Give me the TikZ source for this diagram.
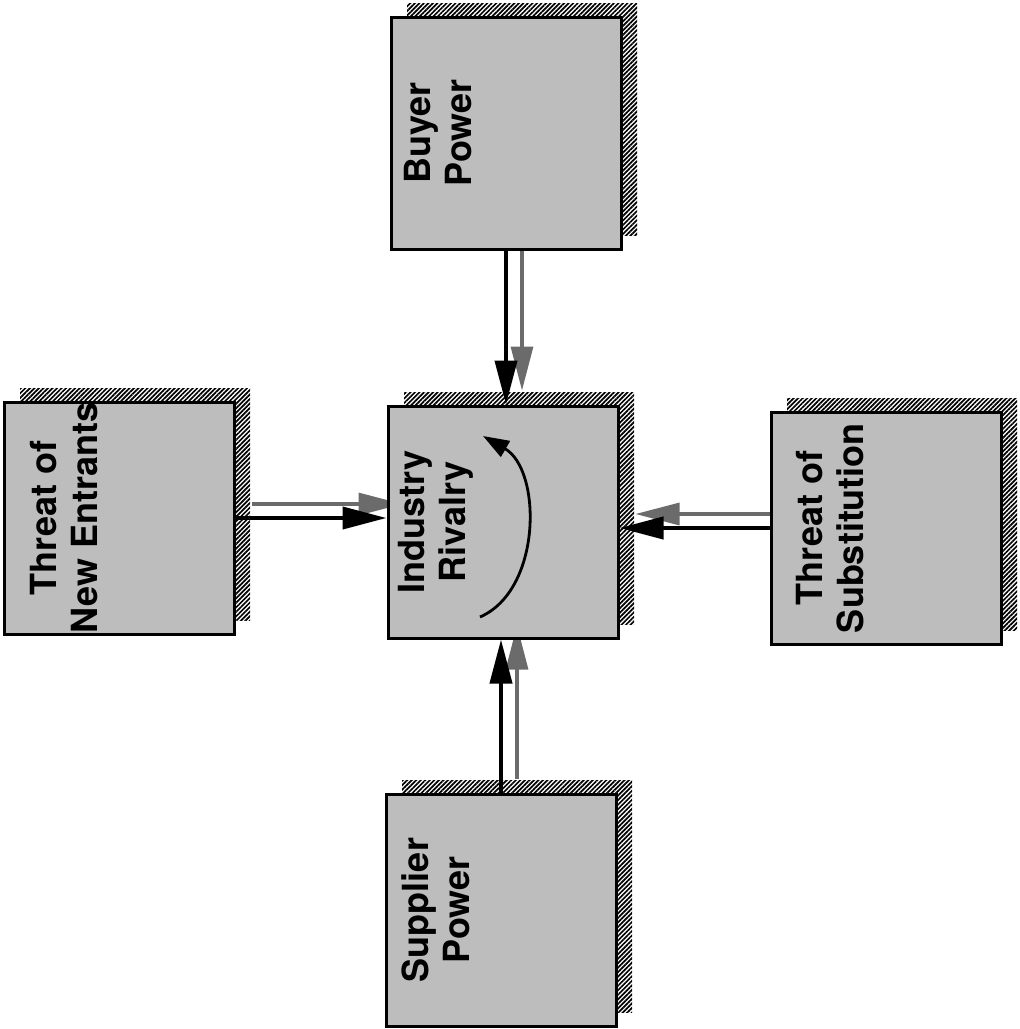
\documentclass[tikz,border=0pt]{standalone}
\usepackage{fontspec}
\setsansfont{TeX Gyre Heros}
\usepackage{tikz}
\usetikzlibrary{arrows.meta,positioning,shadows,patterns.meta,backgrounds}
\definecolor{stip}{gray}{0.74}
\definecolor{shade}{gray}{0.42}
\tikzset{
  >={Triangle[length=22pt,width=11pt]},
  forcebox/.style={draw=black,line width=1.5pt,fill=stip,minimum width=115pt,minimum height=116pt,inner sep=0pt,
    drop shadow={shadow xshift=8pt,shadow yshift=7pt,opacity=1,fill=white,pattern={Lines[angle=45,distance=1.6pt,line width=0.85pt]}}},
  lbl/.style={rotate=90,align=center,inner sep=0pt,font=\sffamily\bfseries\fontsize{18pt}{20.5pt}\selectfont},
  arr/.style={->,line width=2pt},
  sarr/.style={->,line width=1.6pt,draw=shade},
  turn/.style={-{Triangle[length=13pt,width=9pt]},line width=1.4pt},
}

\begin{document}
\begin{tikzpicture}[x=0.5pt,y=-0.5pt]
\useasboundingbox (0,0) rectangle (1019,1029);
% the five forces
\node[forcebox] (rival) at (503,522) {};
\node[forcebox] (buyer) at (506,133) {};
\node[forcebox] (entr) at (119,518) {};
\node[forcebox] (subst) at (886,528) {};
\node[forcebox] (supp) at (501,910) {};
\node[lbl] (rivaltxt) at ([xshift=24.5pt]rival.west) {Industry\\Rivalry};
\node[lbl] (buyertxt) at ([xshift=24.5pt]buyer.west) {Buyer\\Power};
\node[lbl] (entrtxt) at ([xshift=31pt]entr.west) {Threat of\\New Entrants};
\node[lbl] (substtxt) at ([xshift=30.5pt]subst.west) {Threat of\\Substitution};
\node[lbl] (supptxt) at ([xshift=25.5pt]supp.west) {Supplier\\Power};
% arrow shadows
\begin{scope}[on background layer]
\begin{scope}[transform canvas={xshift=8pt,yshift=7pt}]
\draw[sarr] (buyer.south) -- (buyer.south |- rival.north);
\draw[sarr] (entr.east) -- (entr.east -| rival.west);
\draw[sarr] (subst.west) -- (subst.west -| rival.east);
\draw[sarr] (supp.north) -- (supp.north |- rival.south);
\end{scope}
\end{scope}
\draw[arr] (buyer.south) -- (buyer.south |- rival.north);
\draw[arr] (entr.east) -- (entr.east -| rival.west);
\draw[arr] (subst.west) -- (subst.west -| rival.east);
\draw[arr] (supp.north) -- (supp.north |- rival.south);
% rivalry turn
\begin{scope}[shift={(rival.center)}]
\draw[turn] (-23,95) .. controls (39,68) and (39,-52) .. (-20,-86);
\end{scope}
\end{tikzpicture}
\end{document}
